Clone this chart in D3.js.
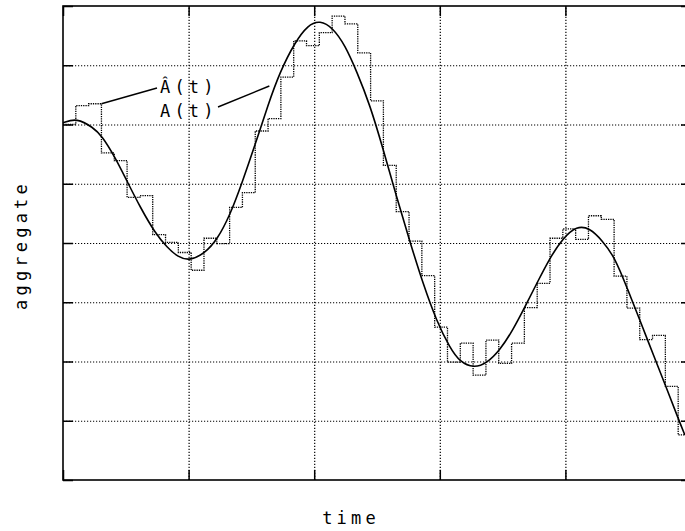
<!DOCTYPE html>
<html>
<head>
<meta charset="utf-8">
<script src="https://cdn.jsdelivr.net/npm/d3@7"></script>
<style>
  body { margin: 0; background: #fff; }
  svg { display: block; }
  text { font-family: "DejaVu Sans Mono", monospace; fill: #000; }
</style>
</head>
<body>
<div id="chart"></div>
<script>
// estimate Â(t): one value per sample step (step k covers [k, k+1))
const stepValues = [6.00, 6.32, 6.35, 5.52, 5.39, 4.77, 4.80, 4.14, 4.01, 3.84,
  3.54, 4.08, 3.99, 4.60, 4.85, 5.89, 6.10, 6.80, 7.41, 7.33,
  7.55, 7.83, 7.70, 7.21, 6.40, 5.31, 4.53, 4.03, 3.45, 2.58,
  1.99, 2.31, 1.77, 2.36, 1.97, 2.31, 2.91, 3.32, 4.08, 4.24,
  4.06, 4.46, 4.40, 3.44, 2.90, 2.37, 2.44, 1.58, 0.76];

// true aggregate A(t)
const curveTimes = [0, 1.09, 2.34, 3.04, 4.06, 5.07, 6.01, 7.18, 8.11, 8.97,
  9.91, 11.08, 12.01, 13.03, 13.96, 14.98, 15.99, 16.93, 18.10, 19.11,
  20.05, 21.06, 22.0, 22.93, 23.95, 24.96, 26.05, 27.07, 28.08, 29.17,
  30.19, 30.97, 32.06, 33.07, 34.09, 35.10, 36.04, 36.97, 37.99, 39.00,
  40.09, 41.11, 42.04, 43.06, 44.07, 45.01, 46.1, 47.11, 48.05, 48.52];
const curveValues = [6.03, 6.11, 5.95, 5.81, 5.45, 5.01, 4.61, 4.17, 3.93, 3.76,
  3.70, 3.83, 4.05, 4.47, 5.01, 5.65, 6.33, 6.89, 7.39, 7.68,
  7.76, 7.63, 7.34, 6.89, 6.33, 5.60, 4.76, 4.02, 3.32, 2.67,
  2.23, 1.99, 1.89, 1.97, 2.19, 2.53, 2.92, 3.32, 3.75, 4.08,
  4.29, 4.25, 4.05, 3.76, 3.21, 2.70, 2.09, 1.54, 1.01, 0.76];

// grid positions (no tick labels on this chart)
const xTicks = [0, 9.8, 19.6, 29.4, 39.2, 49];
const yTicks = [0, 1, 2, 3, 4, 5, 6, 7, 8];

const W = 685, H = 531;
const margin = { top: 6, left: 63 },
  width = 628,
  height = 474;

const svg = d3.select("#chart")
  .append("svg")
  .attr("width", W)
  .attr("height", H);

const x = d3.scaleLinear().domain([0, 49]).range([margin.left, margin.left + width]);
const y = d3.scaleLinear().domain([0, 8]).range([margin.top + height, margin.top]);

// dotted grid
const grid = svg.append("g").attr("class", "grid");
grid.append("g")
  .attr("transform", "translate(0," + (margin.top + height) + ")")
  .call(d3.axisBottom(x).tickValues(xTicks.slice(1, -1)).tickSize(-height).tickFormat(""));
grid.append("g")
  .attr("transform", "translate(" + margin.left + ",0)")
  .call(d3.axisLeft(y).tickValues(yTicks.slice(1, -1)).tickSize(-width).tickFormat(""));
grid.selectAll(".domain").remove();
grid.selectAll(".tick line")
  .attr("stroke", "#000")
  .attr("stroke-width", 1.2)
  .attr("stroke-dasharray", "1.2,1.8");

// short solid ticks on all four sides
const tickLen = 10;
const ticks = svg.append("g").attr("class", "ticks");
ticks.append("g")
  .attr("transform", "translate(0," + (margin.top + height) + ")")
  .call(d3.axisBottom(x).tickValues(xTicks).tickSize(-tickLen).tickFormat(""));
ticks.append("g")
  .attr("transform", "translate(0," + margin.top + ")")
  .call(d3.axisTop(x).tickValues(xTicks).tickSize(-tickLen).tickFormat(""));
ticks.append("g")
  .attr("transform", "translate(" + margin.left + ",0)")
  .call(d3.axisLeft(y).tickValues(yTicks).tickSize(-tickLen).tickFormat(""));
ticks.append("g")
  .attr("transform", "translate(" + (margin.left + width) + ",0)")
  .call(d3.axisRight(y).tickValues(yTicks).tickSize(-tickLen).tickFormat(""));
ticks.selectAll(".domain").remove();
ticks.selectAll(".tick line").attr("stroke", "#000").attr("stroke-width", 1.5);

// step estimate Â(t)
const stepPts = stepValues.map((v, i) => [i, v]);
stepPts.push([stepValues.length, stepValues[stepValues.length - 1]]);
svg.append("path")
  .datum(stepPts)
  .attr("fill", "none")
  .attr("stroke", "#000")
  .attr("stroke-width", 1.3)
  .attr("stroke-dasharray", "1.3,1")
  .attr("d", d3.line()
    .x(d => x(d[0]))
    .y(d => y(d[1]))
    .curve(d3.curveStepAfter));

// smooth A(t)
svg.append("path")
  .datum(curveTimes.map((t, i) => [t, curveValues[i]]))
  .attr("fill", "none")
  .attr("stroke", "#000")
  .attr("stroke-width", 1.6)
  .attr("d", d3.line()
    .x(d => x(d[0]))
    .y(d => y(d[1]))
    .curve(d3.curveBasis));

// border
svg.append("rect")
  .attr("x", margin.left)
  .attr("y", margin.top)
  .attr("width", width)
  .attr("height", height)
  .attr("fill", "none")
  .attr("stroke", "#000")
  .attr("stroke-width", 1.6);

// curve labels with leader lines
const labelFont = 17, labelSpacing = 4.2;
svg.append("text")
  .attr("x", 160).attr("y", 93)
  .style("font-size", labelFont + "px")
  .style("letter-spacing", labelSpacing + "px")
  .text("Â(t)");
svg.append("text")
  .attr("x", 160).attr("y", 117)
  .style("font-size", labelFont + "px")
  .style("letter-spacing", labelSpacing + "px")
  .text("A(t)");

svg.append("line")
  .attr("x1", x(3)).attr("y1", y(stepValues[2]))
  .attr("x2", 157).attr("y2", 88)
  .attr("stroke", "#000").attr("stroke-width", 1.4);
svg.append("line")
  .attr("x1", 218).attr("y1", 107)
  .attr("x2", x(16.1)).attr("y2", y(6.65))
  .attr("stroke", "#000").attr("stroke-width", 1.4);

// axis titles
svg.append("text")
  .attr("x", 351).attr("y", 524)
  .attr("text-anchor", "middle")
  .style("font-size", labelFont + "px")
  .style("letter-spacing", labelSpacing + "px")
  .text("time");
svg.append("text")
  .attr("transform", "translate(27,245) rotate(-90)")
  .attr("text-anchor", "middle")
  .style("font-size", labelFont + "px")
  .style("letter-spacing", labelSpacing + "px")
  .text("aggregate");
</script>
</body>
</html>
